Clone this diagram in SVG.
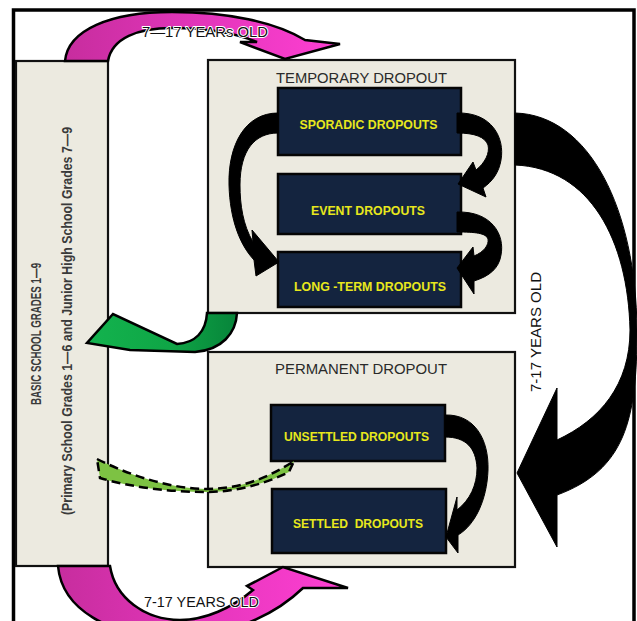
<svg xmlns="http://www.w3.org/2000/svg" width="637" height="621" viewBox="0 0 637 621">
<defs>
<linearGradient id="pinkTop" x1="65" y1="0" x2="340" y2="0" gradientUnits="userSpaceOnUse">
<stop offset="0" stop-color="#C72D9E"/><stop offset="0.45" stop-color="#E035B8"/><stop offset="1" stop-color="#FF3FD3"/>
</linearGradient>
<linearGradient id="pinkBot" x1="58" y1="0" x2="348" y2="0" gradientUnits="userSpaceOnUse">
<stop offset="0" stop-color="#C72D9E"/><stop offset="0.5" stop-color="#E536BC"/><stop offset="1" stop-color="#FF3FD3"/>
</linearGradient>
<linearGradient id="green" x1="87" y1="0" x2="237" y2="0" gradientUnits="userSpaceOnUse">
<stop offset="0" stop-color="#13B34E"/><stop offset="0.55" stop-color="#0FA646"/><stop offset="1" stop-color="#07843A"/>
</linearGradient>
<style>
.frame{fill:#fff;stroke:#000;stroke-width:3.5}
.panel{fill:#ECEAE0;stroke:#111;stroke-width:2.2}
.navy{fill:#14243F;stroke:#050505;stroke-width:2.5}
.lbl{font-family:"Liberation Sans",Arial,sans-serif;font-weight:bold;font-size:12.5px;fill:#E8E81C;text-anchor:middle}
.title{font-family:"Liberation Sans",Arial,sans-serif;font-size:15px;fill:#2A2A2A;text-anchor:middle}
.side{font-family:"Liberation Sans",Arial,sans-serif;font-weight:bold;font-size:14px;fill:#3A3A3A;text-anchor:middle}
.age{font-family:"Liberation Sans",Arial,sans-serif;font-size:15px;fill:#111;text-anchor:middle;stroke:#fff;stroke-width:2;paint-order:stroke;stroke-linejoin:round}
.blk{fill:#000;stroke:#000;stroke-width:1}
.pk{stroke:#000;stroke-width:2.5;stroke-linejoin:miter}
</style>
</defs>
<rect x="0" y="0" width="637" height="621" fill="#fff"/>
<rect class="frame" x="13.5" y="10" width="620.5" height="625"/>

<g id="basic-school">
<rect class="panel" x="16" y="61" width="92" height="505"/>
<text class="side" transform="translate(41,334) rotate(-90) scale(0.7,1)" textLength="203" lengthAdjust="spacingAndGlyphs">BASIC SCHOOL GRADES 1—9</text>
<text class="side" transform="translate(72,321) rotate(-90) scale(0.88,1)" textLength="441" lengthAdjust="spacingAndGlyphs">(Primary School Grades 1—6 and Junior High School Grades 7—9</text>
</g>

<g id="temporary-dropout">
<rect class="panel" x="208" y="60" width="307" height="253"/>
<text class="title" x="361.5" y="83" textLength="171" lengthAdjust="spacingAndGlyphs">TEMPORARY DROPOUT</text>
</g>
<g id="sporadic-dropouts">
<rect class="navy" x="278" y="88" width="183" height="67"/>
<text class="lbl" x="368.5" y="128.5" textLength="138" lengthAdjust="spacingAndGlyphs">SPORADIC DROPOUTS</text>
</g>
<g id="event-dropouts">
<rect class="navy" x="278" y="174" width="183" height="60"/>
<text class="lbl" x="368" y="215" textLength="114" lengthAdjust="spacingAndGlyphs">EVENT DROPOUTS</text>
</g>
<g id="long-term-dropouts">
<rect class="navy" x="278" y="252" width="183" height="55"/>
<text class="lbl" x="370" y="291" textLength="152" lengthAdjust="spacingAndGlyphs">LONG -TERM DROPOUTS</text>
</g>

<g id="permanent-dropout">
<rect class="panel" x="208" y="352" width="307" height="215"/>
<text class="title" x="361" y="374" textLength="172" lengthAdjust="spacingAndGlyphs">PERMANENT DROPOUT</text>
</g>
<g id="unsettled-dropouts">
<rect class="navy" x="271" y="405" width="174" height="56"/>
<text class="lbl" x="356.5" y="441" textLength="145" lengthAdjust="spacingAndGlyphs">UNSETTLED DROPOUTS</text>
</g>
<g id="settled-dropouts">
<rect class="navy" x="272" y="489" width="174" height="64"/>
<text class="lbl" x="358" y="528" style="white-space:pre" textLength="130" lengthAdjust="spacingAndGlyphs">SETTLED  DROPOUTS</text>
</g>

<g id="connectors">
<path class="pk" fill="url(#pinkTop)" d="M 65,61 C 68,30 110,12 172,12 C 228,12 275,22 305,40 L 340,44 L 285,59 L 240,42 L 257,42 C 235,33 205,28 172,28 C 138,28 112,38 108,61 Z"/>
<path class="pk" fill="url(#pinkBot)" d="M 58,566 C 62,610 110,636 170,637 C 230,637 275,615 303,588 L 348,588 L 283,567 L 247,586 L 253,590 C 232,608 205,620 180,620 C 145,620 115,598 110,566 Z"/>
<path class="pk" fill="url(#green)" d="M 237,313 C 236,333 222,350 195,352 L 130,350 L 87,343 L 113,314 L 177,344 C 195,343 206,332 207,313 Z"/>
<path d="M 97,459 C 135,478 175,489 207,489 C 240,489 268,478 294,461 L 289,472 C 265,484 235,492 207,492 C 170,492 130,487 100,478 Z" fill="#7DC243" stroke="#000" stroke-width="2.5" stroke-dasharray="9 5"/>
<path class="blk" d="M 278,113 C 245,113 228,145 229,185 C 230,220 240,245 254,260 L 256,276 L 279,262 L 252,230 L 253,242 C 243,225 240,205 240,185 C 240,150 255,133 278,133 Z"/>
<path class="blk" d="M 457,113 C 492,112 505,138 501,160 C 499,172 493,181 483,188 L 486,197 L 458,184 L 473,162 L 476,170 C 485,163 490,153 488,145 C 485,137 475,133 457,133 Z"/>
<path class="blk" d="M 457,212 C 492,211 505,235 501,255 C 499,268 490,276 474,281 L 474,294 L 457,268 L 473,247 L 474,256 C 484,252 489,245 488,239 C 486,233 475,232 457,232 Z"/>
<path class="blk" d="M 445,415 C 475,414 489,440 488,470 C 487,500 475,525 458,535 L 458,553 L 446,537 L 457,497 L 457,510 C 470,500 477,485 477,468 C 476,448 466,437 445,437 Z"/>
<path class="blk" d="M 515,113 C 590,115 636,210 637,330 C 637,420 625,470 557,495 L 557,547 L 517,473 L 557,388 L 557,440 C 600,420 630,385 630,330 C 628,240 590,168 515,165 Z"/>
<text class="age" x="205" y="37" textLength="126" lengthAdjust="spacingAndGlyphs">7—17 YEARs OLD</text>
<text class="age" x="201.5" y="607" textLength="115" lengthAdjust="spacingAndGlyphs">7-17 YEARS OLD</text>
<text class="age" transform="translate(541,332) rotate(-90)" textLength="120" lengthAdjust="spacingAndGlyphs">7-17 YEARS OLD</text>
</g>
</svg>
